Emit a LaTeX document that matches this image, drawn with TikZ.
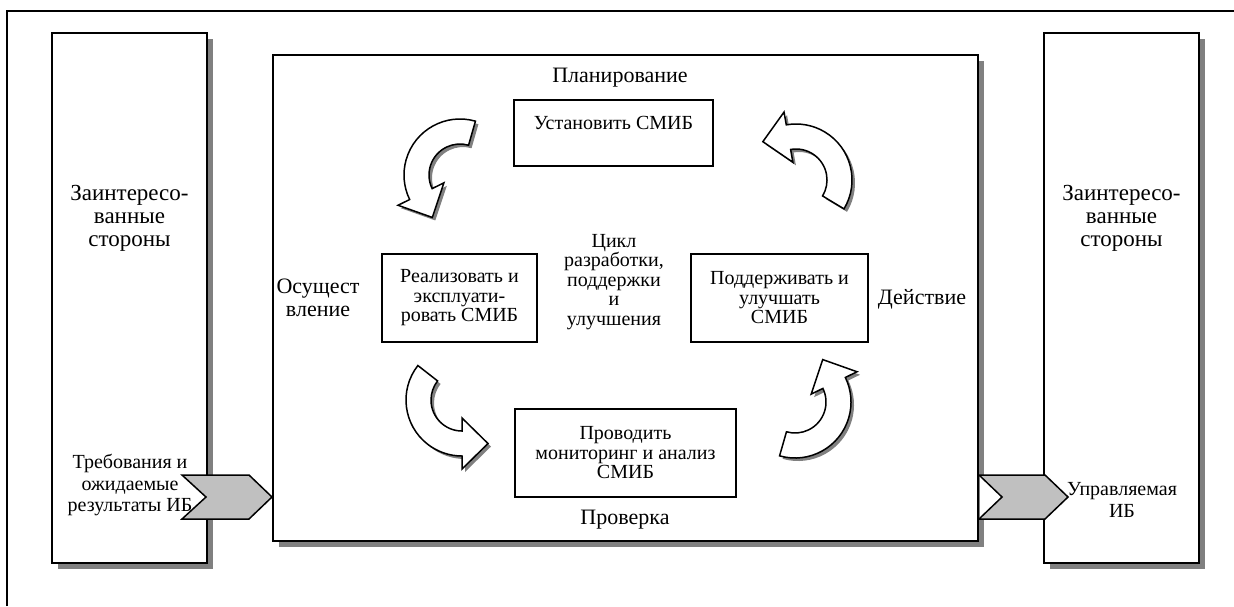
\documentclass[tikz,border=0pt]{standalone}
\usepackage{fontspec}
\setmainfont{Liberation Serif}
\usetikzlibrary{calc,shadows}

\definecolor{shadowgray}{RGB}{128,128,128}
\definecolor{flowgray}{RGB}{192,192,192}

\newcommand{\cyclearrow}[3]{%
  \path[turnarrow] ($(#1)+(#2:56)$) arc[start angle=#2, end angle=#3, radius=56]
    -- ($(#1)+(#3:69)$) -- ($(#1)+(#3:43.5)+(#3-90:26)$) -- ($(#1)+(#3:18)$)
    -- ($(#1)+(#3:31)$) arc[start angle=#3, end angle=#2, radius=31] -- cycle;}

\begin{document}
\begin{tikzpicture}[
    x=0.5pt,
    y=-0.5pt,
    font=\fontsize{10}{10.75}\selectfont,
    panel/.style={
        draw,
        line width=1pt,
        fill=white,
        minimum width=77.5pt,
        minimum height=265pt,
        drop shadow={shadow xshift=2.75pt, shadow yshift=-2.75pt, fill=shadowgray, opacity=1}
    },
    phase/.style={
        draw,
        line width=1pt,
        fill=white,
        align=center,
        inner sep=0pt,
        minimum height=44pt,
        font=\fontsize{10}{9.75}\selectfont
    },
    caption/.style={align=center, inner sep=0pt},
    flowin/.style={draw, line width=0.75pt, fill=flowgray, line join=miter},
    turnarrow/.style={
        draw,
        line width=0.75pt,
        fill=white,
        line join=miter,
        drop shadow={shadow xshift=1.5pt, shadow yshift=-1.5pt, fill=shadowgray, opacity=1}
    }
]

\useasboundingbox (0,0) rectangle (1234,606);
\draw[line width=1.2pt] (7,606) -- (7,11) -- (1234,11);

\node[panel] (lside) at (129.5,298) {};
\node[panel] (rside) at (1121.5,298) {};
\node[panel, minimum width=352.5pt, minimum height=243pt] (cycle) at (625.5,298) {};

\node[caption, font=\fontsize{11.5}{11.5}\selectfont] (lname) at (129.5,218) {Заинтересо-\\ванные\\стороны};
\node[caption, font=\fontsize{11.5}{11.5}\selectfont] (rname) at (1121.5,218) {Заинтересо-\\ванные\\стороны};
\node[caption] (lreq) at (130,485) {Требования и\\ожидаемые\\результаты ИБ};
\node[caption] (rres) at (1122,500) {Управляемая\\ИБ};

\node[phase, minimum width=99.5pt, minimum height=33pt, text height=14.5pt, text depth=18.5pt] (p1) at (613.5,133) {Установить СМИБ};
\node[phase, minimum width=77.5pt] (p2) at (459.5,298) {Реализовать и\\эксплуати-\\ровать СМИБ};
\node[phase, minimum width=110.5pt] (p3) at (625.5,453) {Проводить\\мониторинг и анализ\\СМИБ};
\node[phase, minimum width=88.5pt] (p4) at (779.5,298) {Поддерживать и\\улучшать\\СМИБ};

\node[caption, font=\fontsize{11}{11}\selectfont] (lplan) at (620,78) {Планирование};
\node[caption, font=\fontsize{11}{11.5}\selectfont] (ldo) at (318,298) {Осущест\\вление};
\node[caption, font=\fontsize{11}{11}\selectfont] (lcheck) at (625,520) {Проверка};
\node[caption, font=\fontsize{11}{11}\selectfont] (lact) at (922,299) {Действие};
\node[caption, font=\fontsize{10}{9.75}\selectfont] (lcore) at (614,282) {Цикл\\разработки,\\поддержки\\и\\улучшения};

\coordinate (reqtip) at ([yshift=-99.5pt]cycle.west);
\coordinate (outfoot) at ([yshift=-99.5pt]cycle.east);
\draw[flowin] (reqtip) -- ++(-23,-22) -- ++(-67,0) -- ++(24,22) -- ++(-24,22) -- ++(67,0) -- cycle;
\fill[white] ([xshift=0.5pt]outfoot) ++(0,-22) -- ++(23,22) -- ++(-23,22) -- cycle;
\draw[flowin] (outfoot) ++(0,-22) -- ++(66,0) -- ++(23,22) -- ++(-23,22) -- ++(-66,0) -- ++(23,-22) -- cycle;

\coordinate (c1) at (460,175);
\coordinate (c2) at (462,400);
\coordinate (c3) at (795,402);
\coordinate (c4) at (796,180);
\cyclearrow{c1}{286}{154}
\cyclearrow{c2}{218}{90}
\cyclearrow{c3}{106}{-26}
\cyclearrow{c4}{31}{-100}

\end{tikzpicture}
\end{document}
